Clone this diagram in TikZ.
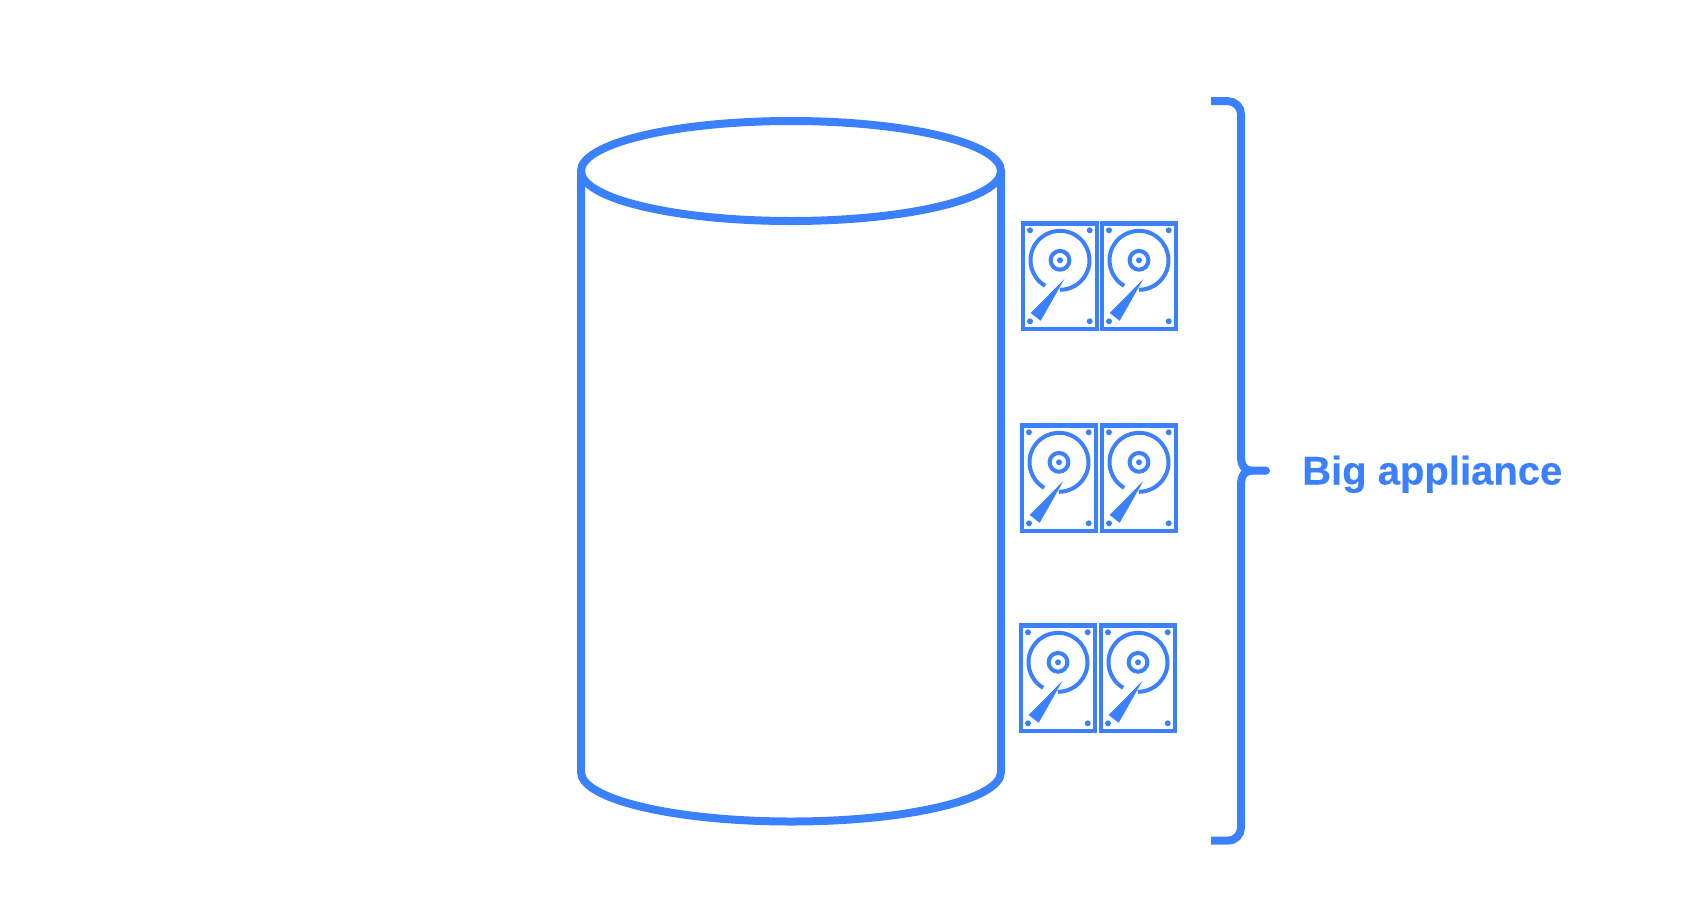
\documentclass[tikz,border=0pt]{standalone}
\usepackage{fontspec}
\setmainfont{Liberation Sans}
\newfontfamily\lblfont[FakeBold=0.25]{Liberation Sans Bold}
\definecolor{blu}{HTML}{3B80FF}
\tikzset{
  x=1pt,y=-1pt,
  thick line/.style={draw=blu,line width=8pt},
  drive line/.style={draw=blu,line width=4.4pt},
  drive/.pic={
    \draw[drive line] (2.2,2.2) rectangle (75.8,107.8);
    \foreach \px/\py in {9/9,68.7/9,9/100,68.7/100}
      \fill[blu] (\px,\py) circle[radius=3];
    \draw[blu,line width=4pt] (39,39) ++(120:29.5) arc[start angle=120,end angle=450,radius=29.5];
    \draw[blu,line width=4pt] (39,39) circle[radius=9.4];
    \fill[blu] (39,39) circle[radius=3];
    \fill[blu] (43.5,57.5) -- (9.7,91.7) -- (19.7,99.5) -- cycle;
  }
}
\begin{document}
\begin{tikzpicture}
\useasboundingbox (0,0) rectangle (1682,922);
% cylinder
\draw[thick line,line join=round] (581,171) -- (581,772) arc[start angle=180,end angle=0,x radius=210,y radius=49.5] -- (1001,171);
\draw[thick line] (791,171) ellipse[x radius=210,y radius=50];
% drives
\pic at (1021,221.3) {drive};
\pic at (1100,221.3) {drive};
\pic at (1020,423.3) {drive};
\pic at (1100,423.3) {drive};
\pic at (1019,623.3) {drive};
\pic at (1099,623.3) {drive};
% brace
\coordinate (bt) at (1211,101.2);
\coordinate (bb) at (1211,840.7);
\coordinate (bm) at (1266,470.7);
\draw[thick line] (bt) -- (1228,101.2) arc[start angle=-90,end angle=0,radius=13] -- (1241,456) .. controls (1241,466) and (1245,470.7) .. (1252,470.7) -- (bm);
\draw[thick line] (bb) -- (1228,840.7) arc[start angle=90,end angle=0,radius=13] -- (1241,485) .. controls (1241,475) and (1245,470.7) .. (1252,470.7);
\fill[blu] (bm) circle[radius=4];
\node[anchor=base west,inner sep=0pt,text=blu,font=\lblfont\fontsize{40}{48}\selectfont] (lbl) at (1302,484.5) {Big appliance};
\end{tikzpicture}
\end{document}
